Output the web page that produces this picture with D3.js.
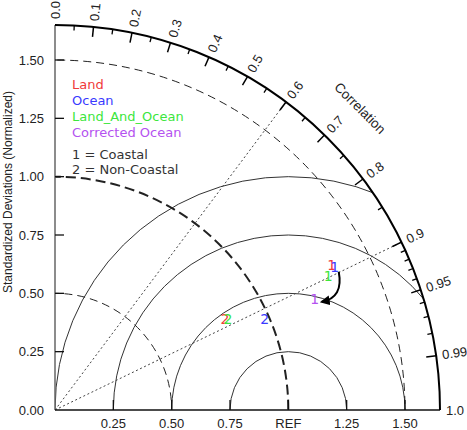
<!DOCTYPE html>
<html>
<head>
<meta charset="utf-8">
<script src="https://cdn.jsdelivr.net/npm/d3@7"></script>
<style>
body { margin:0; background:#fff; }
svg text { font-family: "Liberation Sans", Arial, sans-serif; }
</style>
</head>
<body>
<svg width="467" height="430"></svg>
<script>
// donnees
const groupes = ["Land", "Ocean", "Land_And_Ocean", "Corrected Ocean"]
const couleurs = ["#f03a3a", "#3a3aff", "#3ce63c", "#b452f0"]
// 1 = Coastal
const stdCotier = [1.338, 1.347, 1.304, 1.210]
const corCotier = [0.886, 0.890, 0.898, 0.920]
// 2 = Non-Coastal
const stdNonCotier = [0.826, 0.980, 0.837, null]
const corNonCotier = [0.882, 0.917, 0.885, null]

const ticksStd = [0.25, 0.50, 0.75, 1.00, 1.25, 1.50]
const labelsX = ["0.25", "0.50", "0.75", "REF", "1.25", "1.50"]
const corMajeurs = [0.0, 0.1, 0.2, 0.3, 0.4, 0.5, 0.6, 0.7, 0.8, 0.9, 0.95, 0.99, 1.0]
const corMineurs = [0.05, 0.15, 0.25, 0.35, 0.45, 0.55, 0.65, 0.75, 0.85, 0.91, 0.92, 0.93, 0.94, 0.96, 0.97, 0.98]
const rmsCercles = [0.25, 0.5, 0.75, 1.0]
const stdCercles = [0.5, 1.0, 1.5]
const corLignes = [0.6, 0.9]
const maxStd = 1.65

let svg = d3.select("svg")
let cx = 55, cy = 410
let r = d3.scaleLinear().domain([0, maxStd]).range([0, 385])

function pos(s, c){
    let a = Math.acos(c)
    return [cx + r(s)*Math.cos(a), cy - r(s)*Math.sin(a)]
}

// clip quart de cercle
svg.append("clipPath").attr("id", "quart")
    .append("path")
    .attr("d", `M${cx} ${cy} L${cx+r(maxStd)} ${cy} A${r(maxStd)} ${r(maxStd)} 0 0 0 ${cx} ${cy-r(maxStd)} Z`)

let g = svg.append("g").attr("clip-path", "url(#quart)")

// cercles RMS autour de REF
rmsCercles.forEach(rr => {
    g.append("circle")
        .attr("cx", cx + r(1)).attr("cy", cy).attr("r", r(rr))
        .attr("fill", "none").attr("stroke", "#333").attr("stroke-width", 1)
})

// arcs std (tirets)
stdCercles.forEach(s => {
    g.append("circle")
        .attr("cx", cx).attr("cy", cy).attr("r", r(s))
        .attr("fill", "none").attr("stroke", "#222")
        .attr("stroke-width", s == 1 ? 2 : 1)
        .attr("stroke-dasharray", s == 1 ? "10,5" : "8,5")
})

// lignes de correlation pointillees
corLignes.forEach(c => {
    let p = pos(maxStd, c)
    svg.append("line")
        .attr("x1", cx).attr("y1", cy).attr("x2", p[0]).attr("y2", p[1])
        .attr("stroke", "#444").attr("stroke-width", 1).attr("stroke-dasharray", "2,2.5")
})

// axe y
svg.append("line")
    .attr("x1", cx).attr("y1", cy).attr("x2", cx).attr("y2", cy - r(maxStd))
    .attr("stroke", "#666").attr("stroke-width", 1.5)
// axe x
svg.append("line")
    .attr("x1", cx).attr("y1", cy).attr("x2", cx + r(maxStd)).attr("y2", cy)
    .attr("stroke", "#111").attr("stroke-width", 1.5)

ticksStd.forEach((t, i) => {
    svg.append("line")
        .attr("x1", cx).attr("y1", cy - r(t)).attr("x2", cx + 9).attr("y2", cy - r(t))
        .attr("stroke", "#111").attr("stroke-width", 1.3)
    svg.append("line")
        .attr("x1", cx + r(t)).attr("y1", cy).attr("x2", cx + r(t)).attr("y2", cy - 10)
        .attr("stroke", "#111").attr("stroke-width", 1.3)
    svg.append("text")
        .attr("x", cx - 11).attr("y", cy - r(t)).attr("dy", "0.35em")
        .attr("text-anchor", "end").attr("font-size", 13).attr("fill", "#222")
        .text(t.toFixed(2))
    svg.append("text")
        .attr("x", cx + r(t)).attr("y", cy + 18)
        .attr("text-anchor", "middle").attr("font-size", 13).attr("fill", "#222")
        .text(labelsX[i])
})
svg.append("text")
    .attr("x", cx - 11).attr("y", cy).attr("dy", "0.35em")
    .attr("text-anchor", "end").attr("font-size", 13).attr("fill", "#222")
    .text("0.00")

// arc exterieur
svg.append("path")
    .attr("d", `M${cx+r(maxStd)} ${cy} A${r(maxStd)} ${r(maxStd)} 0 0 0 ${cx} ${cy-r(maxStd)}`)
    .attr("fill", "none").attr("stroke", "#000").attr("stroke-width", 2)

// ticks correlation
corMajeurs.filter(c => c > 0 && c < 1).forEach(c => {
    let a = pos(maxStd, c), b = pos(maxStd - 10/r(1), c)
    svg.append("line").attr("x1", a[0]).attr("y1", a[1]).attr("x2", b[0]).attr("y2", b[1])
        .attr("stroke", "#000").attr("stroke-width", 1.5)
})
corMineurs.forEach(c => {
    let a = pos(maxStd, c), b = pos(maxStd - 5/r(1), c)
    svg.append("line").attr("x1", a[0]).attr("y1", a[1]).attr("x2", b[0]).attr("y2", b[1])
        .attr("stroke", "#000").attr("stroke-width", 1.3)
})
corMajeurs.forEach(c => {
    let p = pos(maxStd + 6/r(1), c)
    let ang = Math.acos(c) * 180 / Math.PI
    svg.append("text")
        .attr("transform", `translate(${p[0]},${p[1]}) rotate(${-ang})`)
        .attr("dy", "0.35em").attr("font-size", 13).attr("fill", "#222")
        .text(c == 0 ? "0.0" : c == 1 ? "1.0" : String(c))
})

// titre correlation
let pc = pos(1.84, Math.cos(44.7 * Math.PI / 180))
svg.append("text")
    .attr("transform", `translate(${pc[0]},${pc[1]}) rotate(45)`)
    .attr("text-anchor", "middle").attr("dy", "0.35em")
    .attr("font-size", 13.5).attr("fill", "#222")
    .text("Correlation")

// titre axe y
svg.append("text")
    .attr("transform", `translate(12,192) rotate(-90)`)
    .attr("text-anchor", "middle").attr("font-size", 12).attr("fill", "#222")
    .text("Standardized Deviations (Normalized)")

// legende
groupes.forEach((nom, i) => {
    svg.append("text")
        .attr("x", 72).attr("y", 89 + i*16)
        .attr("font-size", 13).attr("fill", couleurs[i])
        .style("font-family", "'DejaVu Sans', sans-serif")
        .text(nom)
})
svg.append("text").attr("x", 72).attr("y", 159).attr("font-size", 13).attr("fill", "#333")
    .style("font-family", "'DejaVu Sans', sans-serif")
    .text("1 = Coastal")
svg.append("text").attr("x", 72).attr("y", 174).attr("font-size", 13).attr("fill", "#333")
    .style("font-family", "'DejaVu Sans', sans-serif")
    .text("2 = Non-Coastal")

// fleche Ocean -> Corrected Ocean
svg.append("defs").append("marker")
    .attr("id", "tete").attr("viewBox", "0 0 10 10").attr("refX", 8).attr("refY", 5)
    .attr("markerWidth", 5).attr("markerHeight", 5).attr("orient", "auto")
    .append("path").attr("d", "M0 0 L10 5 L0 10 Z").attr("fill", "#000")
let pO = pos(stdCotier[1], corCotier[1]), pC = pos(stdCotier[3], corCotier[3])
let s0 = [pO[0] + 4, pO[1] + 5], s1 = [pC[0] + 7, pC[1] + 2.5]
svg.append("path")
    .attr("d", `M${s0[0]} ${s0[1]} Q${s0[0]+5} ${s0[1]+26} ${s1[0]} ${s1[1]}`)
    .attr("fill", "none").attr("stroke", "#000").attr("stroke-width", 2)
    .attr("marker-end", "url(#tete)")

// points
function marque(stds, cors, lab){
    stds.forEach((s, i) => {
        if (s == null) return
        let p = pos(s, cors[i])
        svg.append("text")
            .attr("x", p[0]).attr("y", p[1]).attr("dy", "0.35em")
            .attr("text-anchor", "middle").attr("font-size", 14)
            .attr("fill", couleurs[i])
            .style("font-family", "'DejaVu Sans', sans-serif")
            .text(lab)
    })
}
marque(stdNonCotier, corNonCotier, "2")
marque(stdCotier, corCotier, "1")
</script>
</body>
</html>
